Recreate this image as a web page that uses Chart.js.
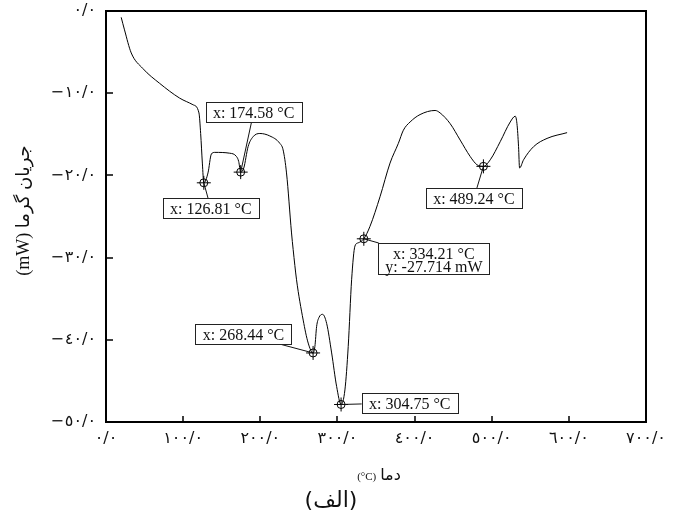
<!DOCTYPE html>
<html>
<head>
<meta charset="utf-8">
<script src="https://cdn.jsdelivr.net/npm/chart.js@4.4.1/dist/chart.umd.min.js"></script>
<style>
  html, body { margin: 0; padding: 0; background: #fff; }
  #wrap { width: 686px; height: 516px; position: relative; }
</style>
</head>
<body>
<div id="wrap"><canvas id="dsc"></canvas></div>
<script>
// DSC heat-flow curve (temperature in °C, heat flow in mW)
const tempC = [
  19.7, 24.0, 32.7, 47.8, 69.5, 95.5, 112.7, 120.5, 122.7, 124.9,
  126.81, 132.2, 136.6, 140.9, 160.4, 169.1, 172.0, 174.58, 178.6, 184.2,
  190.6, 199.4, 212.3, 225.3, 229.6, 234.0, 240.5, 242.6, 247.0, 255.6,
  262.1, 268.44, 270.8, 273.0, 276.0, 280.8, 286.0, 292.5, 299.0, 304.75,
  309.7, 314.0, 318.4, 322.7, 327.0, 334.21, 342.2, 355.2, 368.2, 379.0,
  385.5, 394.2, 407.1, 426.6, 433.1, 446.1, 459.1, 472.1, 480.8, 489.24,
  498.1, 511.0, 524.0, 530.5, 532.7, 534.8, 536.1, 541.3, 554.3, 571.7,
  597.7
];
const heatFlow = [
  -0.77, -2.3, -5.1, -7.0, -8.8, -10.6, -11.4, -12.4, -14.9, -18.5,
  -20.9, -19.7, -17.4, -17.2, -17.3, -17.7, -18.3, -19.6, -19.1, -16.5,
  -15.3, -14.9, -15.2, -16.1, -16.9, -19.7, -27.0, -29.0, -32.7, -37.6,
  -40.4, -41.6, -40.8, -38.4, -37.3, -36.9, -38.0, -41.6, -45.7, -47.87,
  -46.1, -40.8, -32.7, -28.6, -28.2, -27.714, -26.2, -22.6, -18.5, -16.1,
  -14.5, -13.5, -12.6, -12.1, -12.4, -13.7, -15.7, -17.7, -18.7, -18.9,
  -18.1, -15.9, -13.5, -12.8, -13.7, -16.5, -19.1, -18.1, -16.5, -15.5,
  -14.8
];

// Marked peaks and their callout texts
const peakTemps = [126.81, 174.58, 268.44, 304.75, 334.21, 489.24];
const peakFlows = [-20.9, -19.6, -41.6, -47.87, -27.714, -18.9];
const peakLabels = [
  ['x: 126.81 °C'],
  ['x: 174.58 °C'],
  ['x: 268.44 °C'],
  ['x: 304.75 °C'],
  ['x: 334.21 °C', 'y: -27.714 mW'],
  ['x: 489.24 °C']
];

// Axis ticks
const xTickValues = [0, 100, 200, 300, 400, 500, 600, 700];
const xTickLabels = ['٠/٠', '١٠٠/٠', '٢٠٠/٠', '٣٠٠/٠', '٤٠٠/٠', '٥٠٠/٠', '٦٠٠/٠', '٧٠٠/٠'];
const yTickValues = [0, -10, -20, -30, -40, -50];
const yTickLabels = ['٠/٠', '−١٠/٠', '−٢٠/٠', '−٣٠/٠', '−٤٠/٠', '−٥٠/٠'];

// Titles
const xTitleWord = 'دما';
const xTitleUnit = '(°C)';
const yTitle = '(mW) جریان گرما';
const caption = '(الف)';

// Callout box placement: offset of box centre from its marker, in px
const calloutOffsets = [[7, 25.5], [13, -60], [-69.6, -18.5], [68.6, -1.8], [70, 19.7], [-9.5, 31.6]];

const SERIF = "'Liberation Serif', 'DejaVu Serif', serif";
const ARABIC = "'DejaVu Sans', sans-serif";

const decorations = {
  id: 'decorations',
  beforeDraw(chart) {
    // slightly wider spacing for the tick numerals
    chart.ctx.letterSpacing = '1px';
  },
  beforeDatasetsDraw(chart) {
    chart.ctx.letterSpacing = '0px';
  },
  afterDatasetsDraw(chart) {
    const { ctx, scales: { x, y } } = chart;
    ctx.save();
    ctx.letterSpacing = '0px';

    // Callouts: leader line from marker to box edge, then the box with text
    ctx.font = '16px ' + SERIF;
    peakTemps.forEach((t, i) => {
      const mx = x.getPixelForValue(t);
      const my = y.getPixelForValue(peakFlows[i]);
      const lines = peakLabels[i];
      const tw = Math.max(...lines.map(s => ctx.measureText(s).width));
      const w = Math.round(tw + 14);
      const h = lines.length === 1 ? 20 : 31;
      const cx = mx + calloutOffsets[i][0];
      const cy = my + calloutOffsets[i][1];
      const bx = Math.round(cx - w / 2) + 0.5;
      const by = Math.round(cy - h / 2) + 0.5;
      // intersection of centre→marker segment with box border
      const dx = mx - cx, dy = my - cy;
      let s = Infinity;
      if (dx !== 0) s = Math.min(s, (w / 2) / Math.abs(dx));
      if (dy !== 0) s = Math.min(s, (h / 2) / Math.abs(dy));
      const ex = cx + dx * s, ey = cy + dy * s;
      ctx.strokeStyle = '#111';
      ctx.lineWidth = 1;
      ctx.beginPath();
      ctx.moveTo(ex, ey);
      ctx.lineTo(mx, my);
      ctx.stroke();

      ctx.fillStyle = '#fff';
      ctx.fillRect(bx, by, w, h);
      ctx.strokeStyle = '#222';
      ctx.strokeRect(bx, by, w, h);
      ctx.fillStyle = '#111';
      ctx.textAlign = 'center';
      ctx.textBaseline = 'alphabetic';
      lines.forEach((s2, k) => {
        ctx.fillText(s2, cx, by + 15 + k * 13);
      });
    });
    ctx.restore();
  },
  afterDraw(chart) {
    const { ctx, chartArea: a, scales: { x, y } } = chart;
    ctx.save();
    ctx.letterSpacing = '0px';

    // Plot frame
    ctx.strokeStyle = '#000';
    ctx.lineWidth = 2;
    ctx.strokeRect(a.left, a.top, a.right - a.left, a.bottom - a.top);

    // Inward tick marks
    ctx.lineWidth = 1.5;
    ctx.beginPath();
    xTickValues.forEach(v => {
      if (v === x.min || v === x.max) return;
      const px = Math.round(x.getPixelForValue(v));
      ctx.moveTo(px, a.bottom);
      ctx.lineTo(px, a.bottom - 6);
    });
    yTickValues.forEach(v => {
      if (v === y.min || v === y.max) return;
      const py = Math.round(y.getPixelForValue(v));
      ctx.moveTo(a.left, py);
      ctx.lineTo(a.left + 7, py);
    });
    ctx.stroke();

    // Y axis title (rotated)
    ctx.fillStyle = '#111';
    ctx.textAlign = 'center';
    ctx.textBaseline = 'middle';
    ctx.save();
    ctx.translate(24, (a.top + a.bottom) / 2 - 6);
    ctx.rotate(-Math.PI / 2);
    ctx.font = '18px ' + SERIF + ", 'DejaVu Sans'";
    ctx.fillText(yTitle, 0, 0);
    ctx.restore();

    // X axis title: small unit then the word
    ctx.textBaseline = 'alphabetic';
    ctx.textAlign = 'left';
    ctx.font = '11px ' + SERIF;
    const uw = ctx.measureText(xTitleUnit).width;
    ctx.font = '16px ' + ARABIC;
    const ww = ctx.measureText(xTitleWord).width;
    const gx = (a.left + a.right) / 2 + 3 - (uw + 4 + ww) / 2;
    ctx.font = '11px ' + SERIF;
    ctx.fillText(xTitleUnit, gx, 480);
    ctx.font = '16px ' + ARABIC;
    ctx.fillText(xTitleWord, gx + uw + 4, 480);

    // Figure caption
    ctx.textAlign = 'center';
    ctx.textBaseline = 'middle';
    ctx.font = '22px ' + ARABIC;
    ctx.fillText(caption, 331, 501);

    ctx.restore();
  }
};

new Chart(document.getElementById('dsc'), {
  type: 'line',
  data: {
    datasets: [
      {
        label: 'heat flow',
        data: tempC.map((t, i) => ({ x: t, y: heatFlow[i] })),
        borderColor: '#000',
        borderWidth: 1,
        pointRadius: 0,
        fill: false,
        cubicInterpolationMode: 'monotone'
      },
      {
        label: 'peak rings',
        data: peakTemps.map((t, i) => ({ x: t, y: peakFlows[i] })),
        showLine: false,
        pointStyle: 'circle',
        pointRadius: 4,
        pointBorderWidth: 1,
        pointBorderColor: '#000',
        pointBackgroundColor: 'rgba(0,0,0,0)'
      },
      {
        label: 'peak crosses',
        data: peakTemps.map((t, i) => ({ x: t, y: peakFlows[i] })),
        showLine: false,
        pointStyle: 'cross',
        pointRadius: 7,
        pointBorderWidth: 1,
        pointBorderColor: '#000'
      }
    ]
  },
  options: {
    responsive: true,
    maintainAspectRatio: false,
    animation: false,
    events: [],
    layout: { padding: { top: 11, right: 40, left: 0, bottom: 0 }, autoPadding: false },
    plugins: { legend: { display: false }, tooltip: { enabled: false }, title: { display: false } },
    scales: {
      x: {
        type: 'linear',
        min: 0,
        max: 700,
        afterBuildTicks: s => { s.ticks = xTickValues.map(v => ({ value: v })); },
        afterFit: s => { s.height = 94; s.paddingLeft = 0; s.paddingRight = 0; },
        ticks: {
          callback: v => xTickLabels[xTickValues.indexOf(v)],
          font: { family: ARABIC, size: 16 },
          color: '#111',
          padding: 7,
          maxRotation: 0,
          autoSkip: false
        },
        grid: { display: false, drawTicks: false },
        border: { display: false }
      },
      y: {
        type: 'linear',
        min: -50,
        max: 0,
        afterBuildTicks: s => { s.ticks = yTickValues.slice().reverse().map(v => ({ value: v })); },
        afterFit: s => { s.width = 106; s.paddingTop = 0; s.paddingBottom = 0; },
        ticks: {
          callback: v => yTickLabels[yTickValues.indexOf(v)],
          font: { family: ARABIC, size: 16 },
          color: '#111',
          padding: 10,
          autoSkip: false
        },
        grid: { display: false, drawTicks: false },
        border: { display: false }
      }
    }
  },
  plugins: [decorations]
});
</script>
</body>
</html>
